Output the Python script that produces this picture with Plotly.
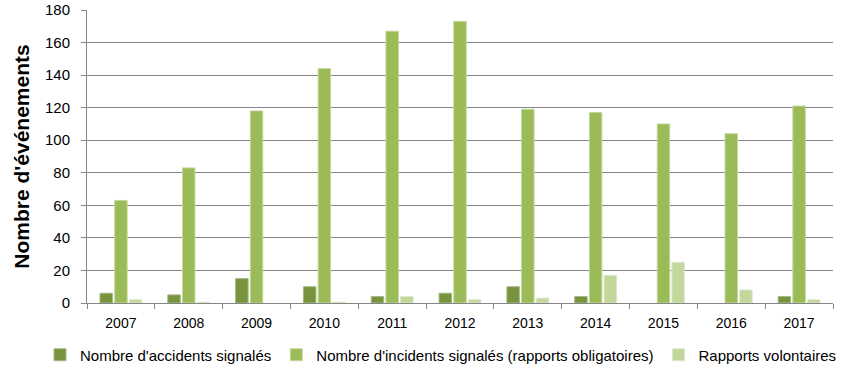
import plotly.graph_objects as go

years = ["2007", "2008", "2009", "2010", "2011", "2012", "2013", "2014", "2015", "2016", "2017"]
accidents = [6, 5, 15, 10, 4, 6, 10, 4, 0, 0, 4]
incidents = [63, 83, 118, 144, 167, 173, 119, 117, 110, 104, 121]
volontaires = [2, 0.5, 0, 0.5, 4, 2, 3, 17, 25, 8, 2]

names = ["Nombre d'accidents signalés",
         "Nombre d'incidents signalés (rapports obligatoires)",
         "Rapports volontaires"]
colors = ["#77933C", "#9BBB59", "#C3D69B"]
edges = ["#A3B98A", "#C4D89A", "#DCE8C8"]

FONT = "Liberation Sans, Arial, sans-serif"

fig = go.Figure()
for vals, name, c, e in zip([accidents, incidents, volontaires], names, colors, edges):
    widths = [1 if v > 0 else 0 for v in vals]
    fig.add_trace(go.Bar(x=years, y=vals, name=name,
                         marker=dict(color=c, line=dict(color=e, width=widths))))

fig.update_layout(
    width=864, height=379,
    margin=dict(l=87, r=31, t=10, b=76, autoexpand=False),
    plot_bgcolor="white", paper_bgcolor="white",
    barmode="group", bargap=0.35, bargroupgap=0.15,
    font=dict(family=FONT, size=15, color="#000000"),
    showlegend=True,
    legend=dict(orientation="h", x=-0.063, xanchor="left",
                y=-0.1775, yanchor="middle",
                font=dict(family=FONT, size=15, color="#000000"),
                itemwidth=30, traceorder="normal"),
)
fig.update_xaxes(
    type="category", showline=True, linecolor="#868686", linewidth=1,
    ticks="outside", tickson="boundaries", ticklen=5, tickcolor="#868686",
    ticklabelstandoff=7,
    tickfont=dict(family=FONT, size=14, color="#000000"),
    showgrid=False, mirror=False,
)
fig.update_yaxes(
    range=[0, 180], dtick=20, showline=True, linecolor="#868686", linewidth=1,
    ticks="outside", ticklen=5, tickcolor="#868686", ticklabelstandoff=8,
    showgrid=True, gridcolor="#868686", gridwidth=1,
    tickfont=dict(family=FONT, size=15, color="#000000"),
    zeroline=False,
    title=dict(text="<b>Nombre d'événements</b>",
               font=dict(family=FONT, size=21, color="#000000"),
               standoff=9),
)

fig.write_html("out.html",
               config={"displayModeBar": False},
               post_script="document.body.style.margin='0';document.body.style.overflow='hidden';")
